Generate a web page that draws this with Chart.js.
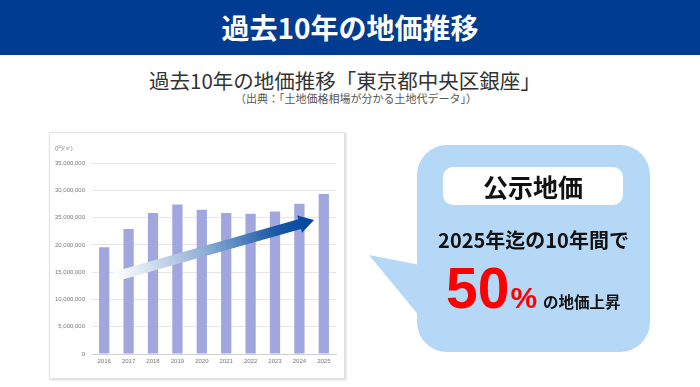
<!DOCTYPE html>
<html lang="ja">
<head>
<meta charset="utf-8">
<script src="https://cdn.jsdelivr.net/npm/chart.js@4/dist/chart.umd.min.js"></script>
<style>
  html, body { margin: 0; padding: 0; background: #fff; }
  body { width: 700px; height: 387px; position: relative; overflow: hidden;
         font-family: "Noto Sans CJK JP", "Noto Sans", sans-serif; }
  .header { position: absolute; left: 0; top: 0; width: 700px; height: 55px; background: #003c91;
            color: #fff; font-weight: 700; font-size: 28px; line-height: 55px; text-align: center; }
  .sub { position: absolute; left: 0; width: 700px; text-align: center; color: #333; }
  .panel { position: absolute; left: 49px; top: 132px; width: 296px; height: 247px; background: #fff;
           border: 1px solid #e2e2e2; box-sizing: border-box; box-shadow: 1px 1px 2px rgba(0,0,0,0.18); }
  .panel canvas { position: absolute; left: 0; top: 0; }
  .bubble { position: absolute; left: 0; top: 0; }
  .t { position: absolute; white-space: nowrap; font-weight: 700; color: #111; }
  .num { font-family: 'Liberation Sans', Arial, sans-serif; color: #ff0000; }
</style>
</head>
<body>
<div class="header">過去10年の地価推移</div>
<div class="sub" style="top:67px;font-size:20.5px;line-height:26px;left:-5px;">過去10年の地価推移「東京都中央区銀座」</div>
<div class="sub" style="top:91px;font-size:11px;line-height:14px;left:6px;color:#555;">（出典：「土地価格相場が分かる土地代データ」）</div>

<div class="panel"><canvas id="chart" width="294" height="245"></canvas></div>

<svg class="bubble" width="700" height="387">
  <rect x="417" y="145" width="233" height="207" rx="30" ry="30" fill="#b4d8f6"/>
  <polygon points="420,265 369,255 420,317" fill="#b4d8f6"/>
  <rect x="443" y="167" width="180" height="38" rx="10" ry="10" fill="#fff"/>
</svg>
<div class="t" style="left:443px;width:180px;top:170px;font-size:25px;line-height:32px;text-align:center;">公示地価</div>
<div class="t" style="left:417px;width:233px;top:227px;font-size:20px;line-height:26px;text-align:center;">2025年迄の10年間で</div>
<div class="t" style="left:446px;top:254px;line-height:68px;"><span class="num" style="font-size:57px;">50</span><span class="num" style="font-size:30px;margin-left:1px;">%</span><span style="font-size:15.5px;margin-left:6px;">の地価上昇</span></div>

<script>
  // data (円/㎡)
  var years = ['2016', '2017', '2018', '2019', '2020', '2021', '2022', '2023', '2024', '2025'];
  var prices = [19550000, 22900000, 25850000, 27400000, 26450000, 25850000, 25700000, 26100000, 27550000, 29300000];
  var yTicks = [0, 5000000, 10000000, 15000000, 20000000, 25000000, 30000000, 35000000];
  var unitLabel = '(円/㎡)';

  // trend arrow, in data units: [category index, value]
  var arrowFrom = [0.45, 14200000];
  var arrowTo = [8.6, 24550000];

  var tickFont = { family: "'Liberation Sans', Arial, sans-serif", size: 6 };

  var extras = {
    id: 'extras',
    afterDatasetsDraw: function(chart) {
      var ctx = chart.ctx, x = chart.scales.x, y = chart.scales.y;
      var x0 = x.getPixelForValue(arrowFrom[0]), y0 = y.getPixelForValue(arrowFrom[1]);
      var x1 = x.getPixelForValue(arrowTo[0]), y1 = y.getPixelForValue(arrowTo[1]);
      var len = Math.sqrt((x1 - x0) * (x1 - x0) + (y1 - y0) * (y1 - y0));
      var ang = Math.atan2(y1 - y0, x1 - x0);
      var shaft = 5, headW = 9, headL = 15;
      ctx.save();
      ctx.translate(x0, y0);
      ctx.rotate(ang);
      var g = ctx.createLinearGradient(0, 0, len, 0);
      g.addColorStop(0, 'rgba(255,255,255,1)');
      g.addColorStop(0.45, '#8eaed6');
      g.addColorStop(0.8, '#1c5aa8');
      g.addColorStop(1, '#00449c');
      ctx.fillStyle = g;
      ctx.beginPath();
      ctx.moveTo(0, -shaft);
      ctx.lineTo(len - headL, -shaft);
      ctx.lineTo(len - headL, -headW);
      ctx.lineTo(len, 0);
      ctx.lineTo(len - headL, headW);
      ctx.lineTo(len - headL, shaft);
      ctx.lineTo(0, shaft);
      ctx.closePath();
      ctx.fill();
      ctx.restore();

      ctx.save();
      ctx.font = '6px ' + tickFont.family;
      ctx.fillStyle = '#777';
      ctx.textBaseline = 'middle';
      ctx.fillText(unitLabel, 5, 15);
      ctx.restore();
    }
  };

  new Chart(document.getElementById('chart'), {
    type: 'bar',
    data: {
      labels: years,
      datasets: [{
        data: prices,
        backgroundColor: '#a1a6de',
        barPercentage: 0.42,
        categoryPercentage: 1
      }]
    },
    options: {
      responsive: false,
      animation: false,
      layout: { padding: { top: 30, right: 8, left: 0, bottom: 0 } },
      plugins: { legend: { display: false }, tooltip: { enabled: false } },
      scales: {
        x: {
          grid: { display: false, drawTicks: false },
          border: { color: '#cfcfcf' },
          ticks: { color: '#777', font: tickFont, padding: 4, maxRotation: 0 },
          afterFit: function(s) { s.height = 24; }
        },
        y: {
          min: 0, max: 35000000,
          afterBuildTicks: function(s) { s.ticks = yTicks.map(function(v) { return { value: v }; }); },
          grid: { color: '#e6e6e6', drawTicks: false },
          border: { display: false },
          ticks: {
            color: '#777', font: tickFont, padding: 7,
            callback: function(v) { return v.toLocaleString('en-US'); }
          },
          afterFit: function(s) { s.width = 42; }
        }
      }
    },
    plugins: [extras]
  });
</script>
</body>
</html>
